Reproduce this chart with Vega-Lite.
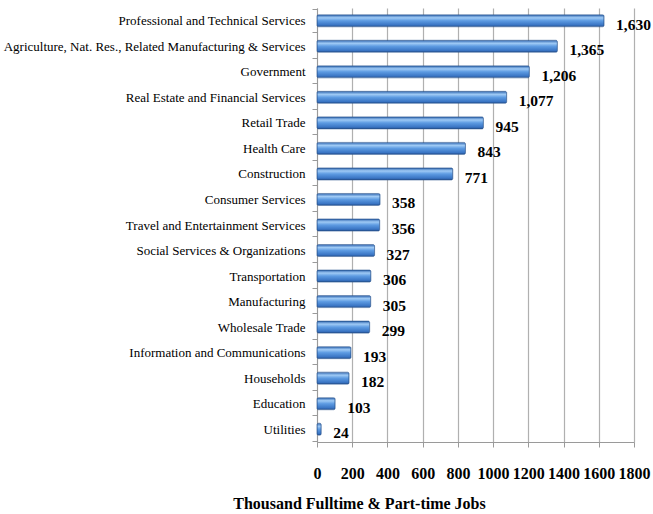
{
  "$schema": "https://vega.github.io/schema/vega-lite/v6.json",
  "width": 317,
  "height": 434,
  "autosize": "none",
  "padding": {"left": 317, "top": 8, "right": 19, "bottom": 72},
  "background": "white",
  "config": {"view": {"stroke": null}, "font": "Liberation Serif"},
  "data": {
    "values": [
      {"sector": "Professional and Technical Services", "jobs": 1630, "label": "1,630"},
      {"sector": "Agriculture, Nat. Res., Related Manufacturing & Services", "jobs": 1365, "label": "1,365"},
      {"sector": "Government", "jobs": 1206, "label": "1,206"},
      {"sector": "Real Estate and Financial Services", "jobs": 1077, "label": "1,077"},
      {"sector": "Retail Trade", "jobs": 945, "label": "945"},
      {"sector": "Health Care", "jobs": 843, "label": "843"},
      {"sector": "Construction", "jobs": 771, "label": "771"},
      {"sector": "Consumer Services", "jobs": 358, "label": "358"},
      {"sector": "Travel and Entertainment Services", "jobs": 356, "label": "356"},
      {"sector": "Social Services & Organizations", "jobs": 327, "label": "327"},
      {"sector": "Transportation", "jobs": 306, "label": "306"},
      {"sector": "Manufacturing", "jobs": 305, "label": "305"},
      {"sector": "Wholesale Trade", "jobs": 299, "label": "299"},
      {"sector": "Information and Communications", "jobs": 193, "label": "193"},
      {"sector": "Households", "jobs": 182, "label": "182"},
      {"sector": "Education", "jobs": 103, "label": "103"},
      {"sector": "Utilities", "jobs": 24, "label": "24"}
    ]
  },
  "encoding": {
    "y": {
      "field": "sector",
      "type": "nominal",
      "sort": null,
      "title": null,
      "axis": {
        "labelFont": "Liberation Serif",
        "labelFontSize": 13,
        "labelColor": "#000000",
        "labelPadding": 7,
        "labelLimit": 320,
        "tickBand": "extent",
        "tickSize": 5,
        "tickColor": "#9a9a9a",
        "domainColor": "#9a9a9a",
        "grid": false
      }
    },
    "x": {
      "field": "jobs",
      "type": "quantitative",
      "scale": {"domain": [0, 1800], "nice": false},
      "title": "Thousand Fulltime & Part-time Jobs",
      "axis": {
        "values": [0, 200, 400, 600, 800, 1000, 1200, 1400, 1600, 1800],
        "format": "d",
        "labelOverlap": false,
        "labelFlush": false,
        "labelBound": false,
        "labelFont": "Liberation Serif",
        "labelFontSize": 16,
        "labelFontWeight": "bold",
        "labelColor": "#000000",
        "labelPadding": 18,
        "titleFont": "Liberation Serif",
        "titleFontSize": 16,
        "titleFontWeight": "bold",
        "titleColor": "#000000",
        "titleX": 42,
        "titleY": 61,
        "titleAlign": "center",
        "titleAnchor": null,
        "titleBaseline": "middle",
        "grid": true,
        "gridColor": "#b0b0b0",
        "gridWidth": 1.2,
        "tickColor": "#9a9a9a",
        "tickSize": 5,
        "domainColor": "#9a9a9a"
      }
    }
  },
  "layer": [
    {
      "mark": {
        "type": "bar",
        "height": 12,
        "cornerRadius": 1.5,
        "stroke": "#2a5590",
        "strokeWidth": 0.6,
        "color": {
          "gradient": "linear",
          "x1": 0, "y1": 0, "x2": 0, "y2": 1,
          "stops": [
            {"offset": 0, "color": "#2f66b0"},
            {"offset": 0.25, "color": "#9fcaf5"},
            {"offset": 0.5, "color": "#5d9be2"},
            {"offset": 0.85, "color": "#3a75c4"},
            {"offset": 1, "color": "#24508f"}
          ]
        }
      }
    },
    {
      "mark": {
        "type": "text",
        "align": "left",
        "baseline": "middle",
        "dx": 12,
        "dy": 4,
        "font": "Liberation Serif",
        "fontSize": 15.5,
        "fontWeight": "bold",
        "color": "#000000"
      },
      "encoding": {"text": {"field": "label"}}
    }
  ]
}
